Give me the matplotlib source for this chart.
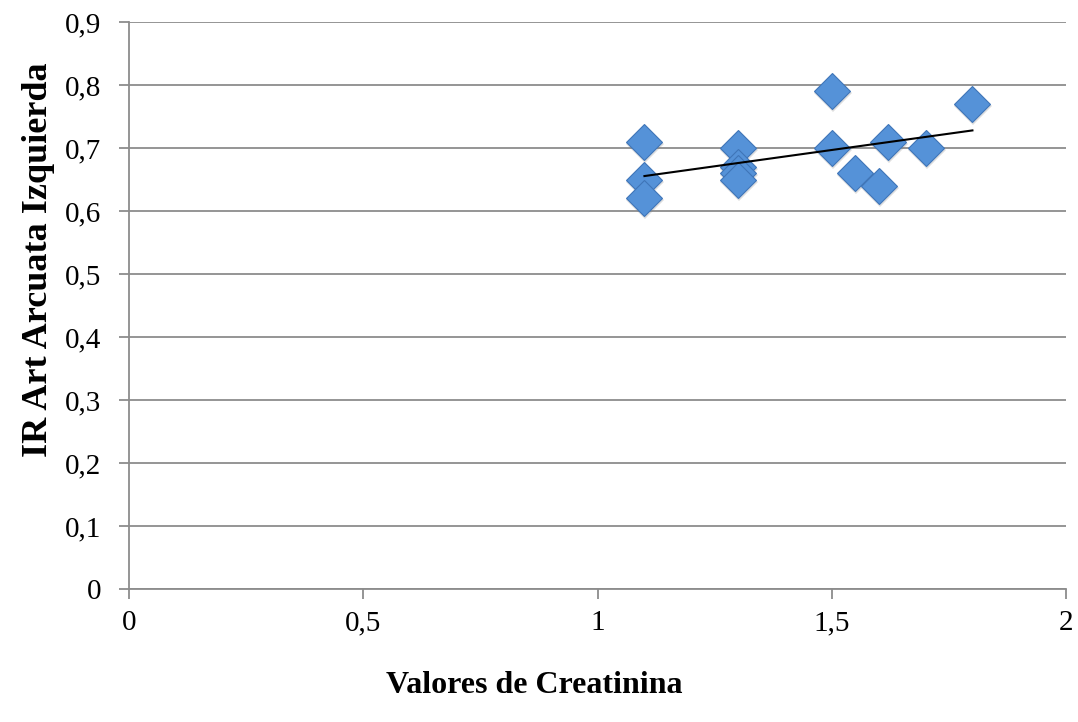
import numpy as np
import matplotlib
matplotlib.use("Agg")
import matplotlib.pyplot as plt

# --- DATA ---
creatinina = [1.1, 1.1, 1.1, 1.3, 1.3, 1.3, 1.3, 1.5, 1.5, 1.55, 1.6, 1.62, 1.7, 1.8]
ir_izq = [0.71, 0.65, 0.62, 0.70, 0.67, 0.66, 0.65, 0.79, 0.70, 0.66, 0.64, 0.71, 0.70, 0.77]
x_ticks = [0, 0.5, 1, 1.5, 2]
x_tick_labels = ["0", "0,5", "1", "1,5", "2"]
y_ticks = [0, 0.1, 0.2, 0.3, 0.4, 0.5, 0.6, 0.7, 0.8, 0.9]
y_tick_labels = ["0", "0,1", "0,2", "0,3", "0,4", "0,5", "0,6", "0,7", "0,8", "0,9"]

plt.rcParams["font.family"] = ["Liberation Serif", "DejaVu Serif"]

fig = plt.figure(figsize=(10.78, 7.22), dpi=100)
ax = fig.add_axes([0.1197, 0.184, 0.8693, 0.7855])

grid_col = "#8c8c8c"
ax.set_xlim(0, 2)
ax.set_ylim(0, 0.9)
ax.set_yticks(y_ticks)
ax.set_yticklabels(y_tick_labels)
ax.set_xticks(x_ticks)
ax.set_xticklabels(x_tick_labels)
ax.yaxis.grid(True, color=grid_col, linewidth=1.3)
ax.set_axisbelow(True)
for s in ["top", "right"]:
    ax.spines[s].set_visible(False)
for s in ["left", "bottom"]:
    ax.spines[s].set_color(grid_col)
    ax.spines[s].set_linewidth(1.3)
ax.tick_params(axis="both", colors=grid_col, length=7, width=1.3, labelsize=21,
               labelcolor="black")
ax.tick_params(axis="x", pad=8)
ax.tick_params(axis="y", pad=13)

# shadow + markers
ax.plot(creatinina, ir_izq, linestyle="none", marker="D", ms=19,
        color="#7f7f7f", alpha=0.25, markeredgewidth=0,
        transform=ax.transData + matplotlib.transforms.ScaledTranslation(1/100, -2/100, fig.dpi_scale_trans))
ax.plot(creatinina, ir_izq, linestyle="none", marker="D", ms=18,
        markerfacecolor="#5592d8", markeredgecolor="#3f75b8", markeredgewidth=0.8)

# linear trendline
coef = np.polyfit(creatinina, ir_izq, 1)
xs = np.array([min(creatinina), max(creatinina)])
ax.plot(xs, np.polyval(coef, xs), color="black", linewidth=1.5)

# axis titles (placed as in the original, y title sits above centre)
fig.text(0.036, 0.64, "IR Art Arcuata Izquierda", ha="center", va="center",
         rotation=90, fontsize=26, fontweight="bold")
fig.text(0.496, 0.051, "Valores de Creatinina", ha="center", va="center",
         fontsize=23, fontweight="bold")

fig.savefig("out.png", dpi=100)
